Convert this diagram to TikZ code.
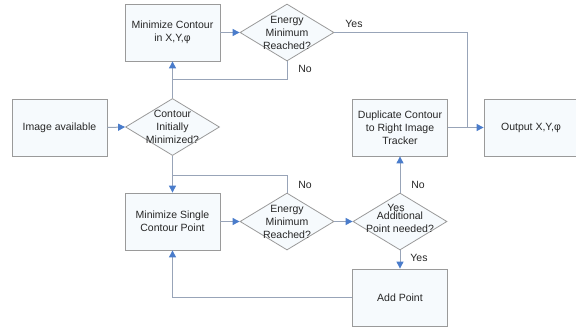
\documentclass[tikz,border=0pt]{standalone}
\usepackage{fontspec}
\setmainfont{Liberation Sans}
\usetikzlibrary{shapes.geometric,arrows.meta}
\definecolor{boxfill}{HTML}{F6FAFD}
\definecolor{boxdraw}{HTML}{9A9A9A}
\definecolor{linec}{HTML}{98A4B8}
\definecolor{tipc}{HTML}{4A7CCB}
\tikzset{
  x=1pt, y=-1pt,
  every node/.style={font=\fontsize{10.5}{13}\selectfont, text=black!85},
  boxnode/.style={draw=boxdraw, fill=boxfill, line width=0.8pt, minimum width=95pt, minimum height=57pt, inner sep=0pt, align=center},
  dianode/.style={diamond, draw=boxdraw, fill=boxfill, line width=0.8pt, minimum width=94pt, minimum height=57pt, inner sep=0pt},
  dialabel/.style={align=center, inner sep=0pt},
  lbl/.style={inner sep=0pt},
  conn/.style={draw=linec, line width=1pt},
  arr/.style={conn, -{Triangle[length=7pt,width=7pt,color=tipc]}},
}
\begin{document}
\begin{tikzpicture}
\useasboundingbox (0,0) rectangle (576,327);
% boxes
\node[boxnode] (mc) at (172.5,32.5) {Minimize Contour\\in X,Y,φ};
\node[boxnode] (img) at (59.5,127.5) {Image available};
\node[boxnode] (dup) at (400,127.5) {Duplicate Contour\\to Right Image\\Tracker};
\node[boxnode, minimum width=94pt] (out) at (531,127.5) {Output X,Y,φ};
\node[boxnode] (ms) at (172.5,221.5) {Minimize Single\\Contour Point};
\node[boxnode] (ap) at (400,297.5) {Add Point};
% diamonds
\node[dianode] (e1) at (287,32.5) {};
\node[dialabel] (e1t) at (e1) {Energy\\Minimum\\Reached?};
\node[dianode] (d1) at (172.5,127) {};
\node[dialabel] (d1t) at (d1) {Contour\\Initially\\Minimized?};
\node[dianode] (e2) at (287,221.5) {};
\node[dialabel] (e2t) at (e2) {Energy\\Minimum\\Reached?};
\node[dianode] (ad) at (400,221.5) {};
\node[dialabel] (adt) at (400,222) {Additional\\Point needed?};
% junctions
\coordinate (j1) at (172.5,79);
\coordinate (j2) at (467,127.5);
\coordinate (j3) at (172.5,175);
% connectors
\draw[arr] (img.east) -- (d1.west);
\draw[arr] (d1.north) -- (mc.south);
\draw[arr] (mc.east) -- (e1.west);
\draw[conn] (e1.south) |- (j1);
\draw[conn] (e1.east) -| (j2);
\draw[arr] (dup.east) -- (out.west);
\draw[arr] (d1.south) -- (ms.north);
\draw[conn] (e2.north) |- (j3);
\draw[arr] (ms.east) -- (e2.west);
\draw[arr] (e2.east) -- (ad.west);
\draw[arr] (ad.north) -- (dup.south);
\draw[arr] (ad.south) -- (ap.north);
\draw[arr] (ap.west) -| (ms.south);
% labels
\node[lbl] (l1) at (354,24) {Yes};
\node[lbl] (l2) at (305,69) {No};
\node[lbl] (l3) at (305,185) {No};
\node[lbl] (l4) at (418,185) {No};
\node[lbl] (l5) at (396,208) {Yes};
\node[lbl] (l6) at (419,258) {Yes};
\end{tikzpicture}
\end{document}
